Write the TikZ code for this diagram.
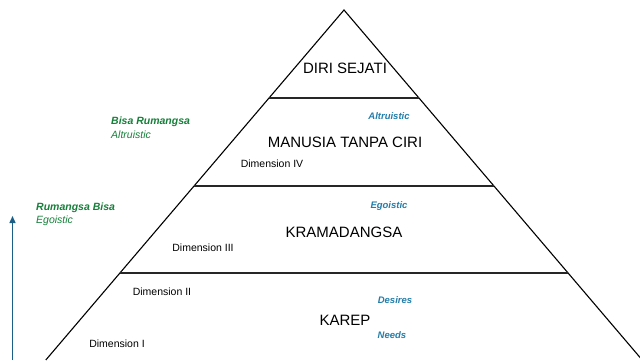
\documentclass[tikz,border=0pt]{standalone}
\usepackage{fontspec}
\setmainfont{Liberation Sans}
\usetikzlibrary{arrows.meta}
\definecolor{greentxt}{RGB}{22,128,58}
\definecolor{bluetxt}{RGB}{35,125,170}
\definecolor{arrowblue}{RGB}{25,95,135}
\tikzset{
  edge/.style={line width=1.1pt, black},
  divider/.style={line width=1.3pt, black!85},
  level/.style={font=\fontsize{15}{17}\selectfont, inner sep=0pt},
  dimlbl/.style={font=\fontsize{10.5}{12}\selectfont, inner sep=0pt},
  bluelbl/.style={font=\fontsize{9.5}{11}\selectfont\bfseries\itshape, text=bluetxt, inner sep=0pt},
  greenhead/.style={font=\fontsize{10.5}{12}\selectfont\bfseries\itshape, text=greentxt, inner sep=0pt, anchor=west},
  greensub/.style={font=\fontsize{10.5}{12}\selectfont\itshape, text=greentxt, inner sep=0pt, anchor=west},
}
\begin{document}
\begin{tikzpicture}[x=1pt,y=-1pt]
\useasboundingbox (0,0) rectangle (640,360);
\fill[white] (0,0) rectangle (640,360);
\coordinate (apex) at (344,10);
\coordinate (l1) at (269,98);   \coordinate (r1) at (419,98);
\coordinate (l2) at (194,186);  \coordinate (r2) at (494,186);
\coordinate (l3) at (120,273);  \coordinate (r3) at (568,273);
\coordinate (lb) at (45.8,360); \coordinate (rb) at (642.2,360);
\begin{scope}
\clip (0,0) rectangle (640,360);
\draw[edge, line join=miter] (lb) -- (apex) -- (rb);
\end{scope}
\draw[divider] (l1) -- (r1);
\draw[divider] (l2) -- (r2);
\draw[divider] (l3) -- (r3);
% level names
\node[level] (diri) at (345,68) {DIRI SEJATI};
\node[level] (manusia) at (345,142) {MANUSIA TANPA CIRI};
\node[level] (krama) at (344,232) {KRAMADANGSA};
\node[level] (karep) at (345,320) {KAREP};
% dimensions
\node[dimlbl] (d4) at (272,164) {Dimension IV};
\node[dimlbl] (d3) at (203,248) {Dimension III};
\node[dimlbl] (d2) at (162,292) {Dimension II};
\node[dimlbl] (d1) at (117,344) {Dimension I};
% blue labels
\node[bluelbl] (altb) at (389,116) {Altruistic};
\node[bluelbl] (egob) at (389,206) {Egoistic};
\node[bluelbl] (des) at (395,300) {Desires};
\node[bluelbl] (need) at (392,335) {Needs};
% green labels
\node[greenhead] (bisa) at (111,122) {Bisa Rumangsa};
\node[greensub] (alt) at (111,135) {Altruistic};
\node[greenhead] (ruma) at (36,208) {Rumangsa Bisa};
\node[greensub] (ego) at (36,221) {Egoistic};
% arrow
\coordinate (arrbot) at (12.5,360);
\coordinate (arrtop) at (12.5,216);
\draw[arrowblue, line width=1.4pt, -{Triangle[length=7pt,width=6pt]}] (arrbot) -- (arrtop);
\end{tikzpicture}
\end{document}
